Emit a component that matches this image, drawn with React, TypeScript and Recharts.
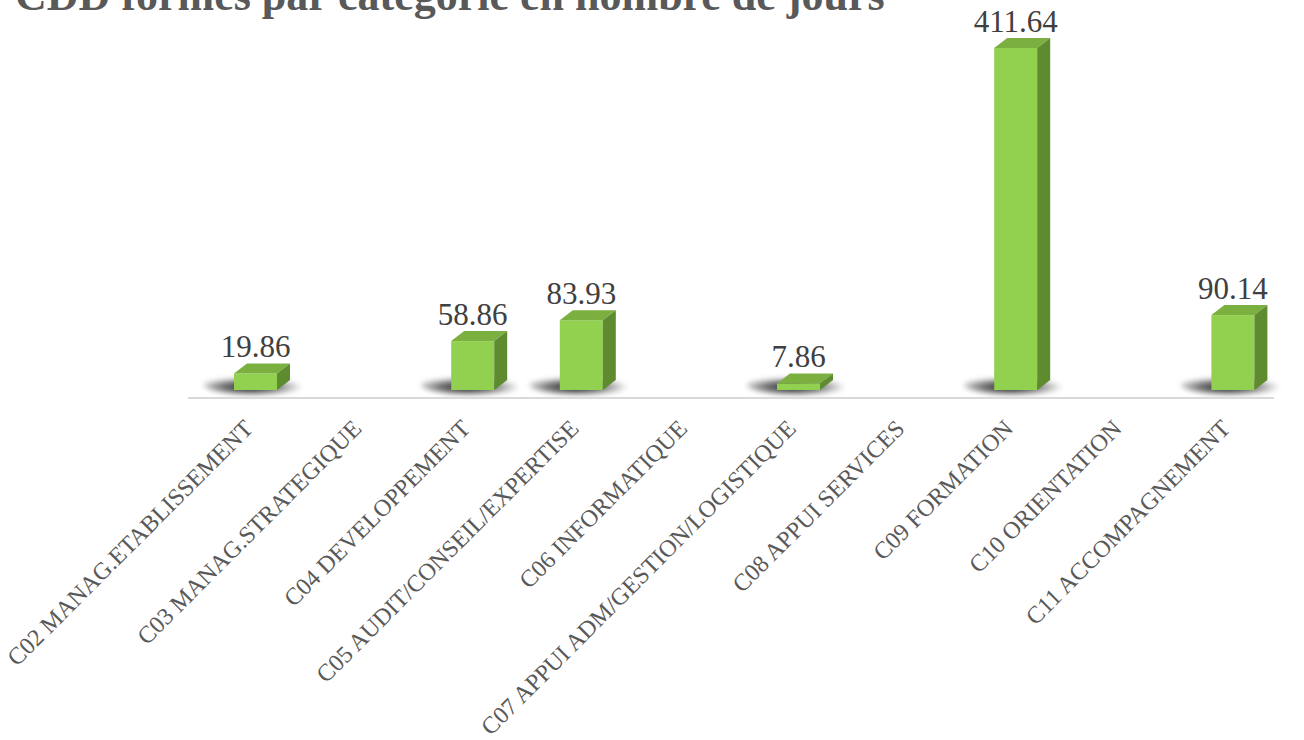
import { BarChart, Bar, XAxis, YAxis, LabelList } from "recharts";

// categories and days (null = no bar drawn)
const categories = [
  "C02 MANAG.ETABLISSEMENT",
  "C03 MANAG.STRATEGIQUE",
  "C04 DEVELOPPEMENT",
  "C05 AUDIT/CONSEIL/EXPERTISE",
  "C06 INFORMATIQUE",
  "C07 APPUI ADM/GESTION/LOGISTIQUE",
  "C08 APPUI SERVICES",
  "C09 FORMATION",
  "C10 ORIENTATION",
  "C11 ACCOMPAGNEMENT",
];
const days: (number | null)[] = [19.86, null, 58.86, 83.93, null, 7.86, null, 411.64, null, 90.14];
const TITLE = "CDD formés par catégorie en nombre de jours";

const data = categories.map((name, i) => ({ name, v: days[i] }));

/* 3d look: front face is pushed right of the band, floor sits 8px below the base */
const SHIFT = 13;
const LIFT = 8;
const DX = 13;
const DY = -10;
const FRONT = "#92d050";
const TOP = "#7bb040";
const SIDE = "#5e8a30";
const FONT = "'Liberation Serif', serif";

function Bar3D(props: any) {
  const { x, y, width, height, index } = props;
  if (height == null || height <= 0) return null;
  const l = x + SHIFT;
  const t = y - LIFT;
  const r = l + width;
  const b = t + height;
  const gid = `sh-${index}`;
  return (
    <g>
      <defs>
        <radialGradient id={gid} cx="42%" cy="60%" r="50%">
          <stop offset="0%" stopColor="#000" stopOpacity={0.9} />
          <stop offset="50%" stopColor="#000" stopOpacity={0.55} />
          <stop offset="100%" stopColor="#000" stopOpacity={0} />
        </radialGradient>
        <filter id={`bl-${index}`} x="-20%" y="-80%" width="140%" height="260%">
          <feGaussianBlur stdDeviation="2.5" />
        </filter>
      </defs>
      <ellipse cx={l + width / 2 + 2} cy={b - 5} rx={54} ry={10} fill={`url(#${gid})`} filter={`url(#bl-${index})`} />
      <rect x={l} y={t} width={width} height={height} fill={FRONT} />
      <polygon points={`${l},${t} ${l + DX},${t + DY} ${r + DX},${t + DY} ${r},${t}`} fill={TOP} />
      <polygon points={`${r},${t} ${r + DX},${t + DY} ${r + DX},${b + DY} ${r},${b}`} fill={SIDE} />
    </g>
  );
}

function ValueLabel(props: any) {
  const { x, y, width, value } = props;
  if (value == null) return null;
  return (
    <text x={x + width / 2 + SHIFT} y={y - LIFT - 16} textAnchor="middle" fill="#404040" fontSize={31} fontFamily={FONT}>
      {Number(value).toFixed(2)}
    </text>
  );
}

function Tick(props: any) {
  const { x, y, payload } = props;
  return (
    <text
      transform={`translate(${x + SHIFT - 1},${y + 32}) rotate(-45)`}
      textAnchor="end"
      fill="#595959"
      fontSize={24}
      fontFamily={FONT}
    >
      {payload.value}
    </text>
  );
}

export default function App() {
  return (
    <div style={{ position: "absolute", left: 0, top: 0, width: 1304, height: 740, background: "#fff", overflow: "hidden" }}>
      <svg width={1304} height={740} style={{ position: "absolute", left: 0, top: 0, pointerEvents: "none" }}>
        <text x={15} y={10} fill="#595959" fontSize={44} fontWeight={700} fontFamily={FONT}>
          {TITLE}
        </text>
      </svg>
      <div style={{ position: "absolute", left: 0, top: 0 }}>
        <BarChart width={1304} height={740} data={data} margin={{ top: 24, right: 30, left: 188, bottom: 12 }}>
          <XAxis
            dataKey="name"
            interval={0}
            height={330}
            tickLine={false}
            tickSize={0}
            tickMargin={0}
            axisLine={{ stroke: "#d9d9d9", strokeWidth: 2 }}
            tick={<Tick />}
          />
          <YAxis hide domain={[0, 450]} />
          <Bar dataKey="v" barSize={43} shape={<Bar3D />} isAnimationActive={false}>
            <LabelList dataKey="v" content={<ValueLabel />} />
          </Bar>
        </BarChart>
      </div>
    </div>
  );
}
